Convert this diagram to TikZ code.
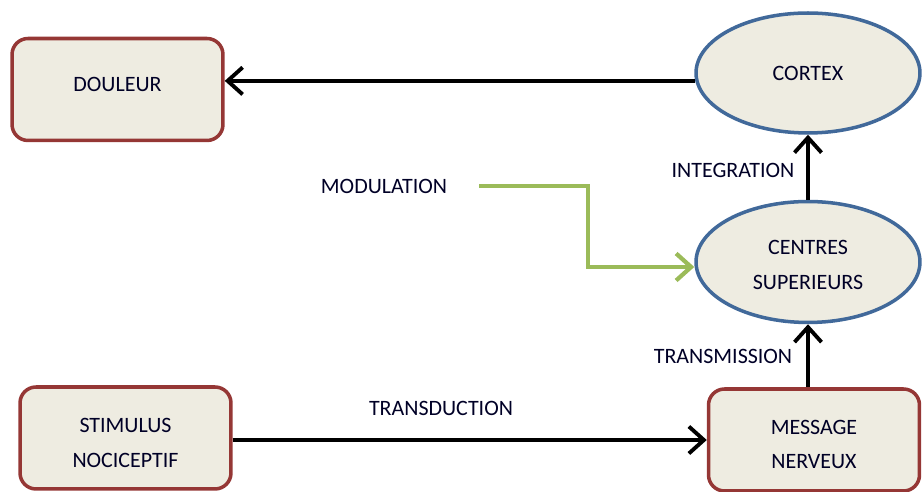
\documentclass[tikz,border=0pt]{standalone}
\usepackage{fontspec}
\setmainfont{Carlito}
\usetikzlibrary{arrows.meta,shapes.geometric}

\definecolor{boxred}{HTML}{953735}
\definecolor{boxfill}{HTML}{EEECE1}
\definecolor{ellblue}{HTML}{41699A}
\definecolor{modgreen}{HTML}{9BBB59}

\newcommand{\decale}[2]{\raisebox{#1}[\height][\depth]{#2}}

\tikzset{
	etape/.style={draw=boxred, fill=boxfill, line width=2pt, rounded corners=0.32cm,
		minimum width=4.22cm, minimum height=2.04cm, align=center},
	centre/.style={ellipse, draw=ellblue, fill=boxfill, line width=2pt,
		minimum width=4.48cm, align=center},
	fleche/.style={line width=2.2pt, -{Straight Barb[length=3mm,width=5.4mm,line width=2.2pt]}},
	modfleche/.style={modgreen, line width=2.4pt, -{Straight Barb[length=3mm,width=5.4mm,line width=2.4pt]}},
	etiquette/.style={inner sep=1pt}
}

\begin{document}
\begin{tikzpicture}[x=0.02cm, y=-0.02cm, font=\fontsize{12.5}{19.5}\selectfont, text=black!85!blue]
		%%%%% START %%%%%
		\useasboundingbox (0, 0) rectangle (923, 492);
		
		\node[etape] (douleur) at (117.5, 89.5) {\decale{0.1cm}{DOULEUR}};
		\node[etape] (stimulus) at (125.5, 438) {\decale{-0.1cm}{STIMULUS}\\\decale{-0.1cm}{NOCICEPTIF}};
		\node[etape] (message) at (814, 440) {\decale{-0.09cm}{MESSAGE}\\\decale{-0.09cm}{NERVEUX}};
		
		\node[centre, minimum height=2.4cm] (cortex) at (808, 73) {CORTEX};
		\node[centre, minimum height=2.42cm] (centres) at (808, 262) {\decale{-0.06cm}{CENTRES}\\\decale{-0.06cm}{SUPERIEURS}};
		
		\node[etiquette] (modulation) at (384, 186) {MODULATION};
		\node[etiquette] (integration) at (733, 170) {INTEGRATION};
		\node[etiquette] (transmission) at (723, 356) {TRANSMISSION};
		\node[etiquette] (transduction) at (441, 408) {TRANSDUCTION};
		
		%%%%% FLECHES %%%%%
		\draw[fleche] (cortex.184) -- (cortex.184 -| douleur.east);
		\draw[fleche] (stimulus.east |- message) -- (message.west);
		\draw[fleche] (message.north -| centres.south) -- (centres.south);
		\draw[fleche] (centres.north) -- (cortex.south);
		
		\coordinate (coude) at (588, 267);
		\draw[modfleche] ([xshift=0.6cm]modulation.east) -- (coude |- modulation) -- (coude) -- (centres.west |- coude);
		
		%%%%% END %%%%%
\end{tikzpicture}
\end{document}
